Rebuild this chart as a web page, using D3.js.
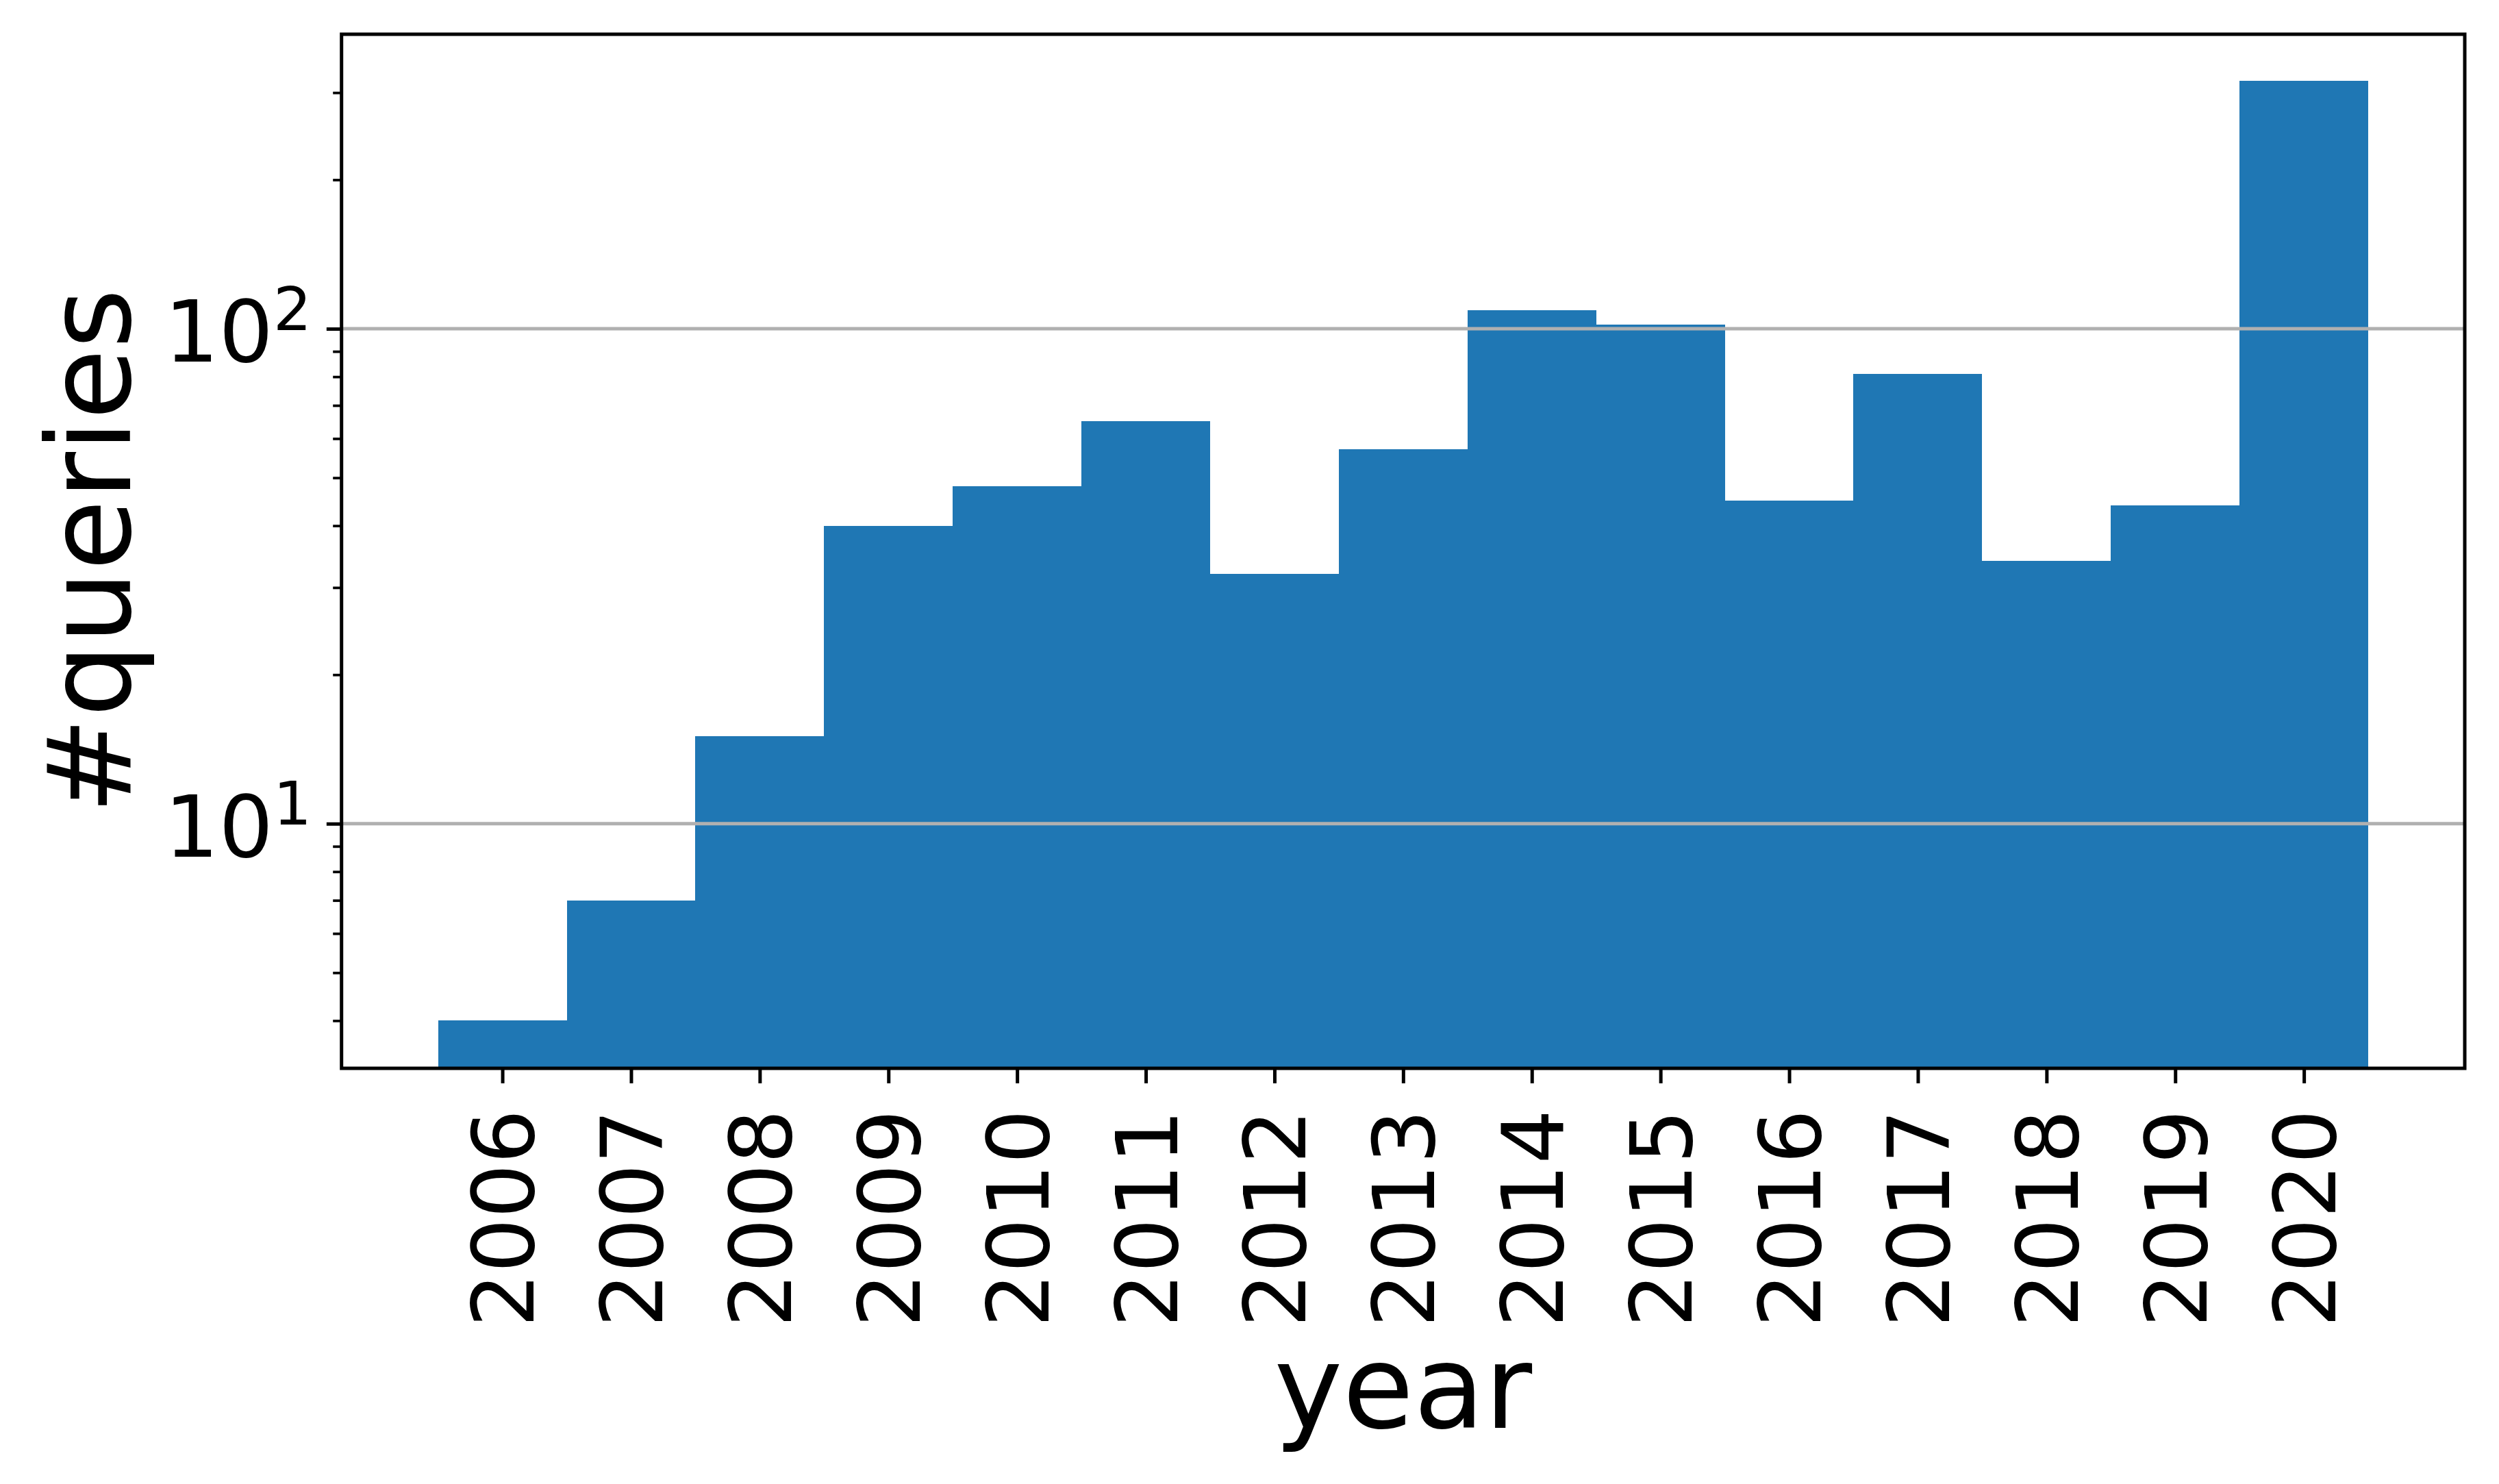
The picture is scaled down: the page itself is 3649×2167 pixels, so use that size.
<!DOCTYPE html>
<html>
<head>
<meta charset="utf-8">
<script src="https://cdn.jsdelivr.net/npm/d3@7"></script>
<style>
  html, body { margin: 0; padding: 0; background: #ffffff; }
  svg { display: block; }
</style>
</head>
<body>
<script>
// ---- data ----
const years = [2006, 2007, 2008, 2009, 2010, 2011, 2012, 2013, 2014, 2015, 2016, 2017, 2018, 2019, 2020];
const counts = [4, 7, 15, 40, 48, 65, 32, 57, 109, 102, 45, 81, 34, 44, 317];
const yMajorTicks = [10, 100];
const yMajorBase = ["10", "10"];
const yMajorExp = ["1", "2"];
const yMinorTicks = [4, 5, 6, 7, 8, 9, 20, 30, 40, 50, 60, 70, 80, 90, 200, 300];
const xLabel = "year";
const yLabel = "#queries";

// ---- layout ----
const W = 3649, H = 2167;
const plotLeft = 498.7, plotRight = 3599, plotTop = 50, plotBottom = 1560;
const FONT = "DejaVu Sans";
const pt = 6.25; // px per point (450 dpi)

const svg = d3.select("body").append("svg")
  .attr("width", W).attr("height", H)
  .attr("viewBox", `0 0 ${W} ${H}`);
svg.append("rect").attr("width", W).attr("height", H).attr("fill", "#ffffff");

const x = d3.scaleLinear().domain([2004.75, 2021.25]).range([plotLeft, plotRight]);
const y = d3.scaleLog().domain([3.204, 393.6]).range([plotBottom, plotTop]);

// bars
svg.append("g").selectAll("rect")
  .data(years.map((yr, i) => ({ yr, v: counts[i] })))
  .join("rect")
  .attr("x", d => x(d.yr - 0.5))
  .attr("width", d => x(d.yr + 0.5) - x(d.yr - 0.5))
  .attr("y", d => y(d.v))
  .attr("height", d => plotBottom - y(d.v))
  .attr("fill", "#1f77b4")
  .attr("shape-rendering", "crispEdges");

// grid (major y only)
svg.append("g").selectAll("line")
  .data(yMajorTicks)
  .join("line")
  .attr("x1", plotLeft).attr("x2", plotRight)
  .attr("y1", d => y(d)).attr("y2", d => y(d))
  .attr("stroke", "#b0b0b0")
  .attr("stroke-width", 0.8 * pt);

// x axis
const xAxis = svg.append("g")
  .attr("transform", `translate(0,${plotBottom})`)
  .call(d3.axisBottom(x).tickValues(years).tickSize(3.5 * pt).tickFormat(d => String(d)));
xAxis.select(".domain").remove();
xAxis.selectAll(".tick line").attr("stroke", "#000").attr("stroke-width", 0.8 * pt);
xAxis.selectAll(".tick text")
  .attr("x", 0).attr("y", 0).attr("dy", null)
  .attr("transform", "translate(45,60) rotate(-90)")
  .attr("text-anchor", "end")
  .attr("font-family", FONT)
  .attr("font-size", 125)
  .attr("fill", "#000");

// y axis minor ticks
const yMinor = svg.append("g")
  .attr("transform", `translate(${plotLeft},0)`)
  .call(d3.axisLeft(y).tickValues(yMinorTicks).tickSize(2 * pt).tickFormat(""));
yMinor.select(".domain").remove();
yMinor.selectAll(".tick line").attr("stroke", "#000").attr("stroke-width", 0.6 * pt);

// y axis major ticks
const yMajor = svg.append("g")
  .attr("transform", `translate(${plotLeft},0)`)
  .call(d3.axisLeft(y).tickValues(yMajorTicks).tickSize(3.5 * pt).tickFormat(""));
yMajor.select(".domain").remove();
yMajor.selectAll(".tick line").attr("stroke", "#000").attr("stroke-width", 0.8 * pt);
yMajor.selectAll(".tick text").remove();
yMajor.selectAll(".tick").each(function (d) {
  const i = yMajorTicks.indexOf(d);
  const t = d3.select(this).append("text")
    .attr("x", -7 * pt)
    .attr("y", 47.5)
    .attr("text-anchor", "end")
    .attr("font-family", FONT)
    .attr("font-size", 125)
    .attr("fill", "#000");
  t.append("tspan").text(yMajorBase[i]);
  t.append("tspan").attr("dy", -46.5).attr("font-size", 88).text(yMajorExp[i]);
});

// spines
svg.append("rect")
  .attr("x", plotLeft).attr("y", plotTop)
  .attr("width", plotRight - plotLeft).attr("height", plotBottom - plotTop)
  .attr("fill", "none")
  .attr("stroke", "#000")
  .attr("stroke-width", 0.8 * pt)
  .attr("stroke-linejoin", "miter");

// axis labels
svg.append("text")
  .attr("x", (plotLeft + plotRight) / 2).attr("y", 2085)
  .attr("text-anchor", "middle")
  .attr("font-family", FONT)
  .attr("font-size", 168.75)
  .attr("fill", "#000")
  .text(xLabel);

svg.append("text")
  .attr("transform", `translate(190,${(plotTop + plotBottom) / 2}) rotate(-90)`)
  .attr("text-anchor", "middle")
  .attr("font-family", FONT)
  .attr("font-size", 168.75)
  .attr("fill", "#000")
  .text(yLabel);
</script>
</body>
</html>
